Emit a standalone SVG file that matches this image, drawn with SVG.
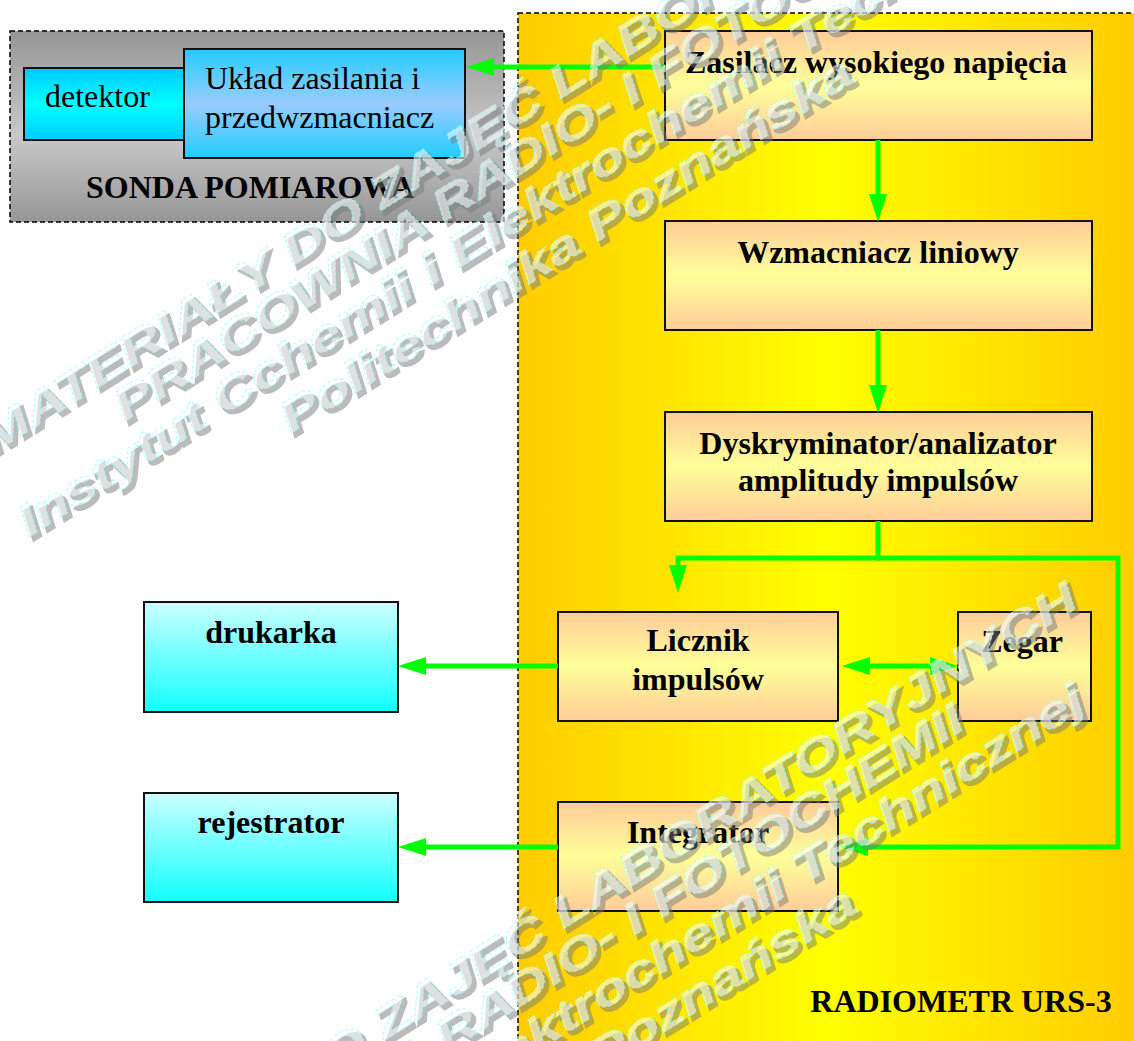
<svg xmlns="http://www.w3.org/2000/svg" width="1134" height="1041" viewBox="0 0 1134 1041">
<defs>
<linearGradient id="gSonda" x1="0" y1="0" x2="0" y2="1">
<stop offset="0" stop-color="#969696"/><stop offset="0.55" stop-color="#c8c8c8"/><stop offset="1" stop-color="#969696"/>
</linearGradient>
<linearGradient id="gRadio" gradientUnits="userSpaceOnUse" x1="518" y1="0" x2="1134" y2="0">
<stop offset="0" stop-color="#ffcc00"/><stop offset="0.5" stop-color="#ffff00"/><stop offset="1" stop-color="#ffcc00"/>
</linearGradient>
<linearGradient id="gDet" x1="0" y1="0" x2="0" y2="1">
<stop offset="0" stop-color="#00c8ff"/><stop offset="0.5" stop-color="#00ffff"/><stop offset="1" stop-color="#00ccff"/>
</linearGradient>
<linearGradient id="gUkl" x1="0" y1="0" x2="0" y2="1">
<stop offset="0" stop-color="#22ccff"/><stop offset="0.5" stop-color="#99ccff"/><stop offset="1" stop-color="#22ccff"/>
</linearGradient>
<linearGradient id="gOr" x1="0" y1="0" x2="0" y2="1">
<stop offset="0" stop-color="#ffcc99"/><stop offset="0.5" stop-color="#ffff99"/><stop offset="1" stop-color="#ffcc99"/>
</linearGradient>
<linearGradient id="gCy" x1="0" y1="0" x2="0" y2="1">
<stop offset="0" stop-color="#ccffff"/><stop offset="1" stop-color="#11ffff"/>
</linearGradient>
<marker id="ah" viewBox="0 0 28 18" refX="0" refY="9" markerWidth="28" markerHeight="18" markerUnits="userSpaceOnUse" orient="auto-start-reverse">
<path d="M0,0 L28,9 L0,18 z" fill="#00ff00"/>
</marker>
<g id="wm">
<text class="wm" x="380" y="-141" textLength="1280" lengthAdjust="spacingAndGlyphs">MATERIAŁY DO ZAJĘĆ LABORATORYJNYCH</text>
<text class="wm" x="365" y="-98" textLength="990" lengthAdjust="spacingAndGlyphs">PRACOWNIA RADIO- I FOTOCHEMII</text>
<text class="wm" x="350" y="-51" textLength="1245" lengthAdjust="spacingAndGlyphs">Instytut Cchemii i Elektrochemii Technicznej</text>
<text class="wm" x="338" y="0" textLength="667" lengthAdjust="spacingAndGlyphs">Politechnika Poznańska</text>
</g>
</defs>
<style>
.box{stroke:#111;stroke-width:2}
.panel{stroke:#000;stroke-width:1.5;stroke-dasharray:5 3}
.tr{font-family:"Liberation Serif","Times New Roman",serif;font-size:32px;fill:#000}
.tb{font-family:"Liberation Serif","Times New Roman",serif;font-size:32px;font-weight:bold;fill:#000;text-anchor:middle}
.wm{font-family:"Liberation Sans",Arial,sans-serif;font-size:44px;font-weight:bold;font-style:italic;text-anchor:middle}
.con{stroke:#00ff00;stroke-width:5;fill:none}
</style>
<rect width="1134" height="1041" fill="#ffffff"/>

<g id="sonda">
<rect class="panel" x="10" y="31" width="494" height="191" fill="url(#gSonda)"/>
<text class="tb" x="250" y="198">SONDA POMIAROWA</text>
</g>
<g id="radiometr">
<rect class="panel" x="518" y="13" width="640" height="1045" fill="url(#gRadio)"/>
<text class="tb" x="961" y="1012">RADIOMETR URS-3</text>
</g>

<g id="detektor">
<rect class="box" x="24" y="68" width="161" height="72" fill="url(#gDet)"/>
<text class="tr" x="45" y="107">detektor</text>
</g>
<g id="uklad">
<rect class="box" x="184" y="49" width="281" height="109" fill="url(#gUkl)"/>
<text class="tr" x="205" y="89">Układ zasilania i</text>
<text class="tr" x="205" y="128">przedwzmacniacz</text>
</g>
<g id="zasilacz">
<rect class="box" x="665" y="31" width="427" height="109" fill="url(#gOr)"/>
<text class="tb" x="876" y="73">Zasilacz wysokiego napięcia</text>
</g>
<g id="wzmacniacz">
<rect class="box" x="665" y="221" width="427" height="109" fill="url(#gOr)"/>
<text class="tb" x="878" y="263">Wzmacniacz liniowy</text>
</g>
<g id="dyskryminator">
<rect class="box" x="665" y="412" width="427" height="109" fill="url(#gOr)"/>
<text class="tb" x="878" y="454">Dyskryminator/analizator</text>
<text class="tb" x="878" y="491">amplitudy impulsów</text>
</g>
<g id="licznik">
<rect class="box" x="558" y="612" width="280" height="109" fill="url(#gOr)"/>
<text class="tb" x="698" y="651">Licznik</text>
<text class="tb" x="698" y="690">impulsów</text>
</g>
<g id="zegar">
<rect class="box" x="958" y="612" width="133" height="109" fill="url(#gOr)"/>
<text class="tb" x="1022" y="652">Zegar</text>
</g>
<g id="integrator">
<rect class="box" x="558" y="802" width="280" height="109" fill="url(#gOr)"/>
<text class="tb" x="698" y="843">Integrator</text>
</g>
<g id="drukarka">
<rect class="box" x="144" y="602" width="254" height="110" fill="url(#gCy)"/>
<text class="tb" x="271" y="643">drukarka</text>
</g>
<g id="rejestrator">
<rect class="box" x="144" y="793" width="254" height="109" fill="url(#gCy)"/>
<text class="tb" x="271" y="833">rejestrator</text>
</g>

<g id="connectors">
<path class="con" d="M665,67 H494" marker-end="url(#ah)"/>
<path class="con" d="M878,140 V194" marker-end="url(#ah)"/>
<path class="con" d="M878,330 V385" marker-end="url(#ah)"/>
<path class="con" d="M878,521 V558 H678 V565" marker-end="url(#ah)"/>
<path class="con" d="M876,558 H1118 V847 H868" marker-end="url(#ah)"/>
<path class="con" d="M870,666 H930" marker-start="url(#ah)" marker-end="url(#ah)"/>
<path class="con" d="M558,666 H426" marker-end="url(#ah)"/>
<path class="con" d="M558,847 H426" marker-end="url(#ah)"/>
</g>

<g id="watermark">
<g opacity="0.5" fill="#7a7a7a" stroke="#7a7a7a" stroke-width="2" transform="translate(291,440) rotate(-32)"><use href="#wm"/></g>
<g fill="#ffffff" fill-opacity="0.55" stroke="#99ffff" stroke-opacity="0.7" stroke-width="1" stroke-dasharray="3 2" transform="translate(287,436) rotate(-32)"><use href="#wm"/></g>
<g opacity="0.5" fill="#7a7a7a" stroke="#7a7a7a" stroke-width="2" transform="translate(294,1270) rotate(-32)"><use href="#wm"/></g>
<g fill="#ffffff" fill-opacity="0.55" stroke="#99ffff" stroke-opacity="0.7" stroke-width="1" stroke-dasharray="3 2" transform="translate(290,1266) rotate(-32)"><use href="#wm"/></g>
</g>
</svg>
